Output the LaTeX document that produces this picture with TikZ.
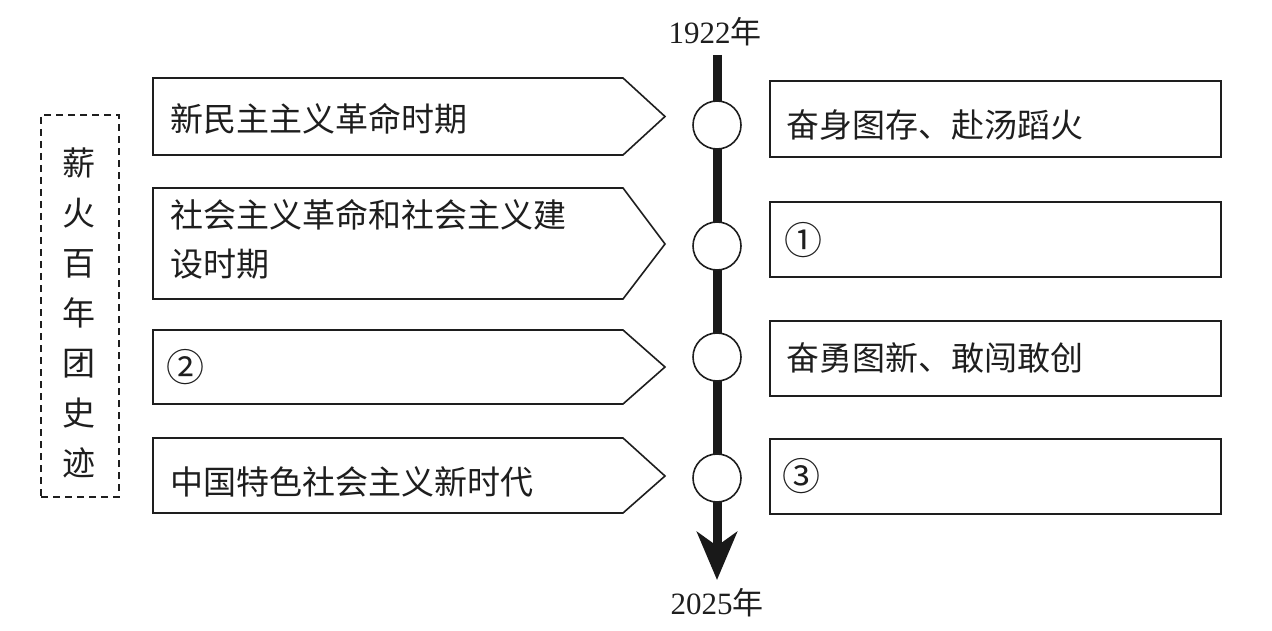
\documentclass[tikz,border=0pt]{standalone}
\usepackage{fontspec}
\usepackage{tikz}
\usepackage{xcolor}
\setmainfont{Liberation Serif}
\newfontfamily\cjk{Noto Sans CJK SC}
\usetikzlibrary{arrows.meta, positioning}
\definecolor{inkblack}{RGB}{30, 30, 30}
\definecolor{axisblack}{RGB}{25, 25, 25}

\begin{document}
\begin{tikzpicture}[x=1pt, y=-1pt,
  pbox/.style={draw=inkblack, line width=1.6pt, fill=white},
  rbox/.style={draw=inkblack, line width=1.6pt, minimum width=451pt, inner sep=0pt},
  dot/.style={circle, draw=inkblack, line width=1.6pt, fill=white, minimum size=48pt, inner sep=0pt},
  txt/.style={font=\cjk\fontsize{33}{49}\selectfont, inner sep=0pt, text=inkblack},
  numlbl/.style={font=\cjk\fontsize{38}{38}\selectfont, inner sep=0pt, text=inkblack},
  yearlbl/.style={font=\fontsize{31}{31}\selectfont, inner sep=0pt, text=inkblack},
  timeline/.style={draw=axisblack, line width=9pt, -{Stealth[length=48pt, width=40pt, inset=14pt]}}]
\useasboundingbox (0,0) rectangle (1272,631);

% left frame
\node[draw=inkblack, line width=1.5pt, dash pattern=on 7pt off 5pt, minimum width=78pt, minimum height=382pt, inner sep=0pt] (frame) at (80,306) {};
\node[txt, align=center, font=\cjk\fontsize{33}{50}\selectfont] (title) at (79,313) {薪\\火\\百\\年\\团\\史\\迹};

% period arrows
\draw[pbox] (153,78) -- (623,78) -- (665,116.5) -- (623,155) -- (153,155) -- cycle;
\draw[pbox] (153,188) -- (623,188) -- (665,244) -- (623,299) -- (153,299) -- cycle;
\draw[pbox] (153,330) -- (623,330) -- (665,367) -- (623,404) -- (153,404) -- cycle;
\draw[pbox] (153,438) -- (623,438) -- (665,476) -- (623,513) -- (153,513) -- cycle;

\node[txt, anchor=west] (p1) at (170,119) {新民主主义革命时期};
\node[txt, anchor=west, align=left] (p2) at (170,239) {社会主义革命和社会主义建\\设时期};
\node[numlbl] (p3) at (185,367) {②};
\node[txt, anchor=west] (p4) at (170,482) {中国特色社会主义新时代};

% timeline
\node[yearlbl] (ystart) at (715,32) {1922{\cjk 年}};
\node[yearlbl] (yend) at (717,603) {2025{\cjk 年}};
\coordinate (tltop) at (717,55);
\coordinate (tlbot) at (717,580);
\draw[timeline] (tltop) -- (tlbot);

\node[dot] (c1) at (717,125) {};
\node[dot] (c2) at (717,246) {};
\node[dot] (c3) at (717,357) {};
\node[dot] (c4) at (717,478) {};

% spirit boxes
\node[rbox, minimum height=76pt] (r1) at (995.5,119) {};
\node[rbox, minimum height=75pt] (r2) at (995.5,239.5) {};
\node[rbox, minimum height=75pt] (r3) at (995.5,358.5) {};
\node[rbox, minimum height=75pt] (r4) at (995.5,476.5) {};

\node[txt, anchor=west] (s1) at (786,125) {奋身图存、赴汤蹈火};
\node[numlbl] (s2) at (803,240) {①};
\node[txt, anchor=west] (s3) at (786,358) {奋勇图新、敢闯敢创};
\node[numlbl] (s4) at (801,476) {③};

\end{tikzpicture}
\end{document}
